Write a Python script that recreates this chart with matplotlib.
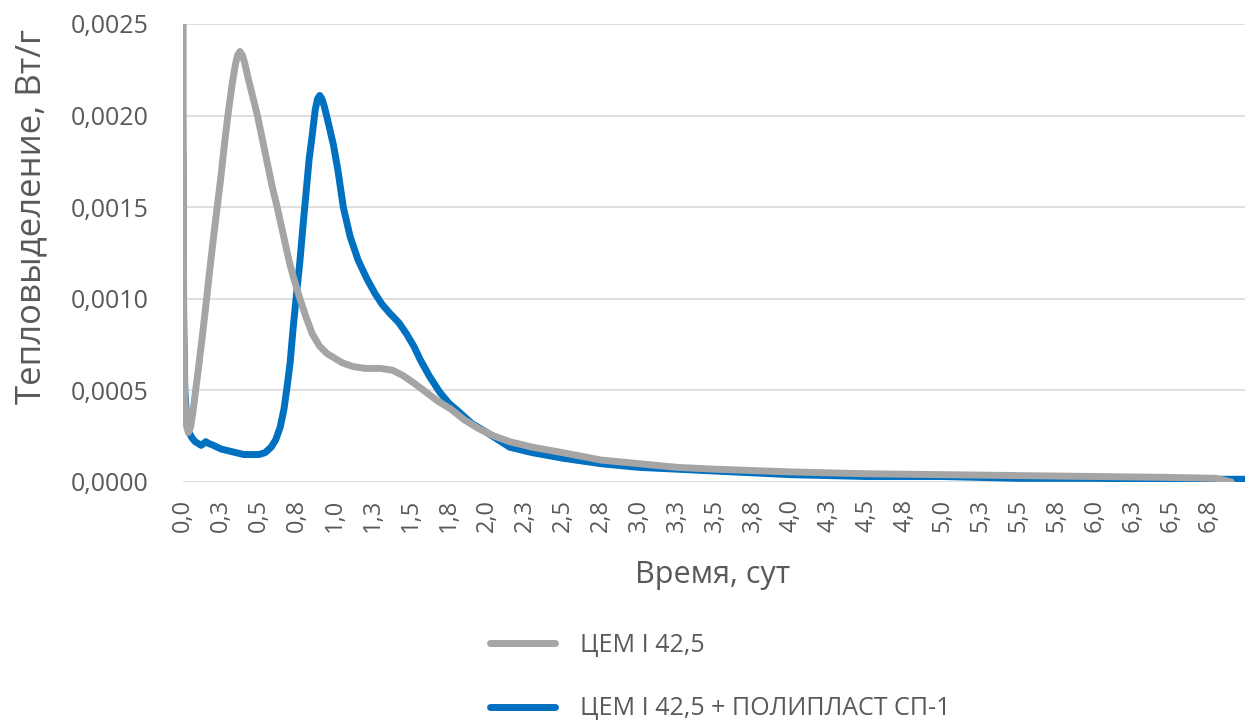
import numpy as np
import matplotlib.pyplot as plt
from matplotlib.ticker import FuncFormatter

plt.rcParams['font.family'] = ['Open Sans', 'DejaVu Sans']

# time, days / heat release, W/g
cem_t = [0.0, 0.002, 0.005, 0.012, 0.022, 0.035, 0.05, 0.065, 0.08, 0.1, 0.125,
         0.15, 0.175, 0.2, 0.225, 0.25, 0.275, 0.3, 0.325, 0.345, 0.36, 0.375,
         0.39, 0.405, 0.43, 0.46, 0.49, 0.52, 0.55, 0.585, 0.62, 0.66, 0.70,
         0.726, 0.77, 0.81, 0.85, 0.90, 0.95, 0.99, 1.05, 1.12, 1.20, 1.30, 1.38,
         1.45, 1.52, 1.60, 1.68, 1.76, 1.85, 1.95, 2.05, 2.15, 2.3, 2.5, 2.75,
         3.0, 3.25, 3.5, 4.0, 4.5, 5.0, 5.5, 6.0, 6.5, 6.8, 6.9]
cem_q = [0.0030, 0.0016, 0.0008, 0.00045, 0.00031, 0.00027, 0.0003, 0.00038,
         0.00048, 0.00061, 0.00078, 0.00096, 0.00115, 0.00133, 0.0015, 0.00167,
         0.00186, 0.00203, 0.00218, 0.00228, 0.00233, 0.00235, 0.00233, 0.00229,
         0.0022, 0.0021, 0.002, 0.00188, 0.00176, 0.00162, 0.0015, 0.00135,
         0.0012, 0.00112, 0.001, 0.0009, 0.00081, 0.00074, 0.0007, 0.00068,
         0.00065, 0.00063, 0.00062, 0.00062, 0.00061, 0.00058, 0.00054, 0.00049,
         0.00044, 0.0004, 0.00034, 0.00029, 0.00025, 0.00022, 0.00019, 0.00016,
         0.00012, 0.0001, 0.00008, 0.00007, 0.000055, 0.000045, 0.00004,
         0.000035, 0.00003, 0.000025, 0.00002, 0.0]

sp1_t = [0.0, 0.004, 0.012, 0.025, 0.04, 0.06, 0.08, 0.10, 0.12, 0.135, 0.15,
         0.17, 0.2, 0.25, 0.3, 0.35, 0.4, 0.45, 0.5, 0.54, 0.58, 0.61, 0.64,
         0.665, 0.685, 0.705, 0.726, 0.75, 0.77, 0.79, 0.81, 0.83, 0.85, 0.87,
         0.885, 0.90, 0.915, 0.93, 0.945, 0.965, 0.99, 1.02, 1.055, 1.10, 1.153,
         1.21, 1.263, 1.31, 1.362, 1.42, 1.47, 1.52, 1.56, 1.62, 1.69, 1.75,
         1.82, 1.9, 2.0, 2.15, 2.3, 2.5, 2.75, 3.0, 3.5, 4.0, 4.5, 5.0, 5.5,
         6.0, 6.5, 6.99]
sp1_q = [0.0018, 0.0009, 0.0005, 0.00033, 0.00027, 0.00024, 0.00022, 0.00021,
         0.0002, 0.00021, 0.00022, 0.00021, 0.0002, 0.00018, 0.00017, 0.00016,
         0.00015, 0.00015, 0.00015, 0.00016, 0.00019, 0.00023, 0.0003, 0.0004,
         0.00052, 0.00065, 0.00085, 0.00105, 0.00121, 0.0014, 0.00158, 0.00176,
         0.00189, 0.00203, 0.00209, 0.00211, 0.00209, 0.00205, 0.002, 0.00193,
         0.00184, 0.0017, 0.0015, 0.00134, 0.00121, 0.00111, 0.00103, 0.00097,
         0.00092, 0.00087, 0.00081, 0.00074, 0.00067, 0.00058, 0.00049, 0.00043,
         0.00038, 0.00032, 0.00027, 0.00019, 0.00016, 0.00013, 0.0001, 0.00008,
         0.00006, 0.00004, 0.00003, 0.00003, 0.00002, 0.00002, 0.000015, 0.000015]

x_labels = ["0,0", "0,3", "0,5", "0,8", "1,0", "1,3", "1,5", "1,8", "2,0", "2,3",
            "2,5", "2,8", "3,0", "3,3", "3,5", "3,8", "4,0", "4,3", "4,5", "4,8",
            "5,0", "5,3", "5,5", "5,8", "6,0", "6,3", "6,5", "6,8"]
names = ["ЦЕМ I 42,5", "ЦЕМ I 42,5 + ПОЛИПЛАСТ СП-1"]

fig = plt.figure(figsize=(12.56, 7.24), dpi=100)
ax = fig.add_axes([183/1256, 1 - 482/724, (1245 - 183)/1256, (482 - 24)/724])

txt = '#595959'
ax.plot(sp1_t, sp1_q, color='#0070C0', lw=5, solid_joinstyle='round',
        solid_capstyle='round', label=names[1], zorder=3)
ax.plot(cem_t, cem_q, color='#A5A5A5', lw=5, solid_joinstyle='round',
        solid_capstyle='round', label=names[0], zorder=4)

ax.set_xlim(0, 6.99)
ax.set_ylim(0, 0.0025)
ax.set_xticks(np.arange(len(x_labels)) * 0.25)
ax.set_xticklabels(x_labels, rotation=90)
ax.set_xticks(np.arange(0, 7), minor=True)
ax.set_yticks(np.arange(0, 0.00251, 0.0005))
ax.yaxis.set_major_formatter(FuncFormatter(lambda v, p: f"{v:.4f}".replace('.', ',')))
ax.tick_params(which='both', length=0, colors=txt)
ax.tick_params(axis='y', labelsize=18, pad=25)
ax.tick_params(axis='x', labelsize=17, pad=12)
ax.grid(axis='y', which='major', color='#D9D9D9', lw=1.2)
ax.grid(axis='x', which='minor', color='#D9D9D9', lw=1.2)
for s in ax.spines.values():
    s.set_visible(False)
ax.axhline(0, color='#D9D9D9', lw=1.2, zorder=1)

fig.text(713/1256, 1 - 575/724, "Время, сут", ha='center', va='center',
         fontsize=22, color=txt)
fig.text(31/1256, 1 - 216/724, "Тепловыделение, Вт/г", ha='center', va='center',
         rotation=90, fontsize=25, color=txt)

h, l = ax.get_legend_handles_labels()
leg = fig.legend(h[::-1], l[::-1], loc='center left',
                 bbox_to_anchor=(490/1256, 1 - 677/724), frameon=False,
                 fontsize=18, handlelength=2.6, handletextpad=1.0,
                 labelspacing=1.55, borderpad=0, borderaxespad=0)
for t in leg.get_texts():
    t.set_color(txt)

fig.savefig("out.png", dpi=100)
